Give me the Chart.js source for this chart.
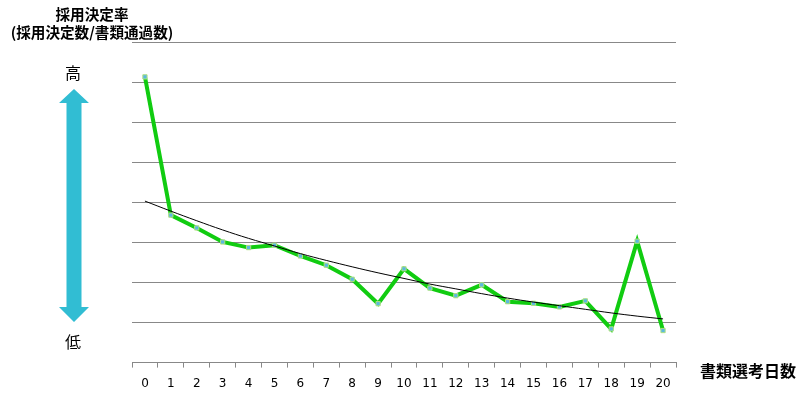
<!DOCTYPE html>
<html lang="ja">
<head>
  <meta charset="UTF-8">
  <title>採用決定率と書類選考日数</title>
  <script src="https://cdn.jsdelivr.net/npm/chart.js"></script>
  <style>
    html, body { margin: 0; padding: 0; background: #fff; }
    #wrap { width: 811px; height: 397px; }
  </style>
</head>
<body>
  <div id="wrap"><canvas id="rateChart" width="811" height="397"></canvas></div>

  <script>
    // 書類選考日数
    const days = ["0","1","2","3","4","5","6","7","8","9","10","11","12","13","14","15","16","17","18","19","20"];
    // 採用決定率（相対値、目盛なし）
    const rate = [7.13, 3.68, 3.36, 3.01, 2.87, 2.93, 2.66, 2.43, 2.08, 1.47, 2.34, 1.86, 1.67, 1.94, 1.52, 1.48, 1.39, 1.54, 0.84, 3.03, 0.80];
    // 近似曲線
    const trend = [4.03, 3.78, 3.54, 3.31, 3.10, 2.91, 2.72, 2.55, 2.39, 2.24, 2.10, 1.96, 1.84, 1.72, 1.61, 1.51, 1.42, 1.33, 1.24, 1.16, 1.09];

    const jpFont = '"Noto Sans CJK JP", "Noto Sans", sans-serif';

    // 左の矢印と見出し
    const decor = {
      id: 'decor',
      afterDraw(chart) {
        const ctx = chart.ctx;
        ctx.save();
        ctx.fillStyle = '#31bdd3';
        const cx = 74, hw = 15, sw = 7.5;
        ctx.beginPath();
        ctx.moveTo(cx, 89);
        ctx.lineTo(cx + hw, 103);
        ctx.lineTo(cx + sw, 103);
        ctx.lineTo(cx + sw, 307);
        ctx.lineTo(cx + hw, 307);
        ctx.lineTo(cx, 322);
        ctx.lineTo(cx - hw, 307);
        ctx.lineTo(cx - sw, 307);
        ctx.lineTo(cx - sw, 103);
        ctx.lineTo(cx - hw, 103);
        ctx.closePath();
        ctx.fill();

        ctx.fillStyle = '#000';
        ctx.textAlign = 'center';
        ctx.textBaseline = 'middle';
        ctx.font = '16px ' + jpFont;
        ctx.fillText('高', 73, 73);
        ctx.fillText('低', 73, 342);

        ctx.font = 'bold 14.6px ' + jpFont;
        ctx.fillText('採用決定率', 92, 14);
        ctx.fillText('(採用決定数/書類通過数)', 92, 32);

        ctx.font = 'bold 16px ' + jpFont;
        ctx.textAlign = 'left';
        ctx.fillText('書類選考日数', 700, 371);
        ctx.restore();
      }
    };

    new Chart(document.getElementById('rateChart'), {
      type: 'line',
      data: {
        labels: days,
        datasets: [{
          label: '採用決定率',
          data: rate,
          borderColor: '#11cc11',
          borderWidth: 4,
          pointStyle: 'rect',
          pointRadius: 3,
          pointBackgroundColor: '#5ab8e0',
          pointBorderColor: '#b0e080',
          pointBorderWidth: 1,
          tension: 0,
          order: 2
        }, {
          label: '近似曲線',
          data: trend,
          borderColor: '#000',
          borderWidth: 1,
          pointRadius: 0,
          tension: 0.4,
          order: 1
        }]
      },
      options: {
        responsive: false,
        animation: false,
        layout: { padding: { left: 132, right: 135, top: 42, bottom: -3 } },
        plugins: { legend: { display: false }, tooltip: { enabled: false } },
        scales: {
          x: {
            offset: true,
            grid: { offset: true, drawOnChartArea: false, drawTicks: true, tickLength: 5, color: '#888' },
            border: { color: '#888', width: 1 },
            ticks: { color: '#000', font: { family: '"DejaVu Sans", Verdana, sans-serif', size: 12 }, padding: 9, maxRotation: 0, autoSkip: false }
          },
          y: {
            min: 0,
            max: 8,
            ticks: { display: false, stepSize: 1 },
            grid: { color: '#888', drawTicks: false },
            border: { display: false }
          }
        }
      },
      plugins: [decor]
    });
  </script>
</body>
</html>
